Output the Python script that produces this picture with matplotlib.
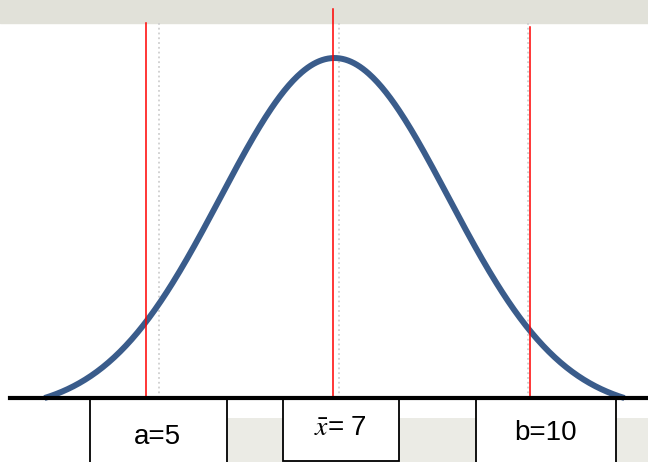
import numpy as np
import matplotlib.pyplot as plt
from matplotlib.patches import Rectangle

plt.rcParams['font.family'] = ['Liberation Sans', 'DejaVu Sans']
plt.rcParams['mathtext.fontset'] = 'stix'

# normal curve (x in chart units), cut where it meets the axis
mu = -0.03
sigma = 0.974
half_width = 2.479

# red reference lines: a, mean, b
line_z = [-1.64, -0.04, 1.64]
line_top = [1.103, 1.144, 1.091]
# faint dotted guides
guide_z = [-1.53, 0.01, 1.62]

box_labels = ['a=5', r'$\bar{x}$= 7', 'b=10']
box_left = [-2.12, -0.47, 1.18]
box_right = [-0.95, 0.52, 2.38]
box_bottom = [-0.25, -0.185, -0.25]
label_z = [-1.54, 0.02, 1.77]
label_y = [-0.115, -0.088, -0.103]

z = np.linspace(mu - half_width, mu + half_width, 400)
pdf = np.exp(-0.5 * ((z - mu) / sigma) ** 2)
floor = np.exp(-0.5 * (half_width / sigma) ** 2)
y = (pdf - floor) / (1 - floor)

fig = plt.figure(figsize=(6.48, 4.62), dpi=100)
ax = fig.add_axes([0, 0, 1, 1])
ax.set_xlim(-2.889, 2.650)
ax.set_ylim(-0.188, 1.1706)
ax.axis('off')

# scanned-page watermark tones
ax.axhspan(1.103, 1.2, color='#e1e1d9', zorder=0)
ax.add_patch(Rectangle((-0.94, -0.3), 3.7, 0.241, facecolor='#ebebe5',
                       edgecolor='none', zorder=0))

for gz in guide_z:
    ax.plot([gz, gz], [0, 1.103], color='#cfcfcf', linestyle=':', linewidth=1.3, zorder=1)

ax.plot(z, y, color='#3a5c8b', linewidth=4.3, solid_capstyle='butt', zorder=2)

for lz, lt in zip(line_z, line_top):
    ax.plot([lz, lz], [0, lt], color='red', linewidth=1.1, zorder=3)

ax.plot([-2.80, 2.65], [0, 0], color='black', linewidth=3, zorder=4)

for lab, l, r, b, tz, ty in zip(box_labels, box_left, box_right, box_bottom, label_z, label_y):
    ax.add_patch(Rectangle((l, b), r - l, -b, facecolor='white', edgecolor='black',
                           linewidth=1.3, zorder=3))
    ax.text(tz, ty, lab, fontsize=20, ha='center', va='center', color='black', zorder=5)

fig.savefig('out.png', dpi=100)
